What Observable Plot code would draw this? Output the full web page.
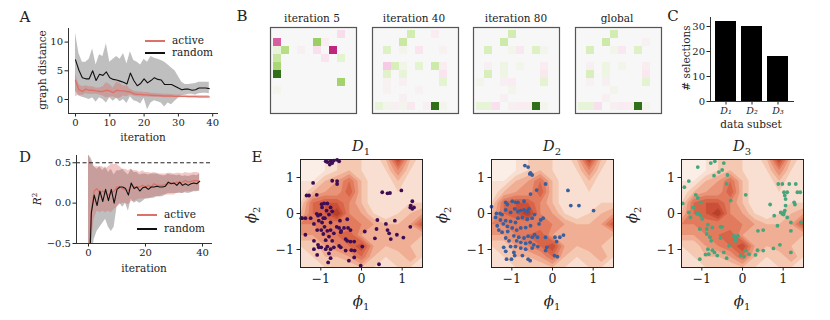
<!DOCTYPE html>
<html><head><meta charset="utf-8">
<script src="https://cdn.jsdelivr.net/npm/d3@7"></script>
<script src="https://cdn.jsdelivr.net/npm/@observablehq/plot@0.6"></script>
<style>
html,body{margin:0;padding:0;background:#fff;}
#fig{position:relative;width:830px;height:320px;overflow:hidden;font-family:"DejaVu Serif",serif;color:#222;}
.lbl{position:absolute;white-space:nowrap;line-height:1;}
.leg{position:absolute;height:1.5px;width:20px;}
</style></head><body><div id="fig"></div>
<script>
// ---------------- DATA ----------------
const iteration = Array.from({length: 40}, (_, i) => i);

// Panel A: graph distance
const randMeanA = [6.9,5.1,3.8,3.6,3.6,5.0,3.3,4.4,4.2,4.8,3.8,3.5,3.4,3.2,3.0,2.7,4.6,3.3,2.4,2.8,3.6,2.9,3.3,3.8,3.5,3.4,2.6,2.6,2.6,2.3,2.0,1.7,1.8,1.8,1.6,1.7,2.0,2.0,2.0,1.9];
const randHiA   = [11.6,8.0,6.5,6.5,7.0,8.8,6.0,7.8,7.5,9.7,6.5,7.0,7.5,7.0,8.0,6.2,8.3,6.8,6.5,6.0,7.0,6.5,7.5,7.2,7.0,6.8,6.5,6.0,5.5,5.0,4.0,3.0,2.6,2.6,2.7,2.8,3.0,3.0,3.0,3.0];
const randLoA   = [1.5,0.6,0.4,0.2,0.0,0.3,-0.5,0.3,0.0,-0.6,0.3,-0.3,0.2,-0.4,0.0,-0.7,0.5,-0.2,-0.4,-0.8,0.2,-1.8,-0.6,-0.2,-0.4,-0.6,-1.3,-0.6,-0.9,-0.3,0.2,0.7,0.8,0.9,0.9,0.8,1.0,1.1,1.1,1.0];
const actMeanA  = [3.3,1.7,1.4,1.8,1.6,1.6,1.5,1.4,1.4,1.6,1.5,1.2,1.6,1.5,1.5,1.4,1.3,1.0,0.9,0.9,0.8,0.8,0.75,0.7,0.7,0.65,0.6,0.6,0.6,0.55,0.55,0.55,0.55,0.5,0.5,0.5,0.45,0.45,0.45,0.45];
const actHiA    = [4.5,2.6,2.2,2.4,2.2,2.2,2.0,2.0,2.2,2.9,2.6,2.0,3.0,2.8,2.3,2.4,1.8,1.5,1.3,1.3,1.2,1.2,1.1,1.05,1.0,0.95,0.9,0.9,0.85,0.8,0.8,0.8,0.8,0.75,0.75,0.75,0.7,0.7,0.7,0.7];
const actLoA    = [0.5,0.8,0.7,1.0,0.9,0.9,0.9,0.8,0.6,0.3,0.4,0.5,0.2,0.2,0.6,0.5,0.8,0.6,0.5,0.5,0.45,0.45,0.4,0.4,0.4,0.35,0.3,0.3,0.3,0.3,0.3,0.3,0.3,0.25,0.25,0.25,0.2,0.2,0.2,0.2];

// Panel D: R^2
const randMeanD = [-1.2,-0.12,0.1,-0.03,0.15,0.02,0.17,0.03,0.17,0.0,0.17,0.2,0.2,0.18,0.1,0.25,0.18,0.2,0.15,0.19,0.2,0.17,0.2,0.2,0.21,0.2,0.2,0.21,0.26,0.24,0.25,0.22,0.26,0.22,0.24,0.22,0.24,0.25,0.24,0.27];
const randHiD   = [0.6,0.55,0.45,0.42,0.45,0.4,0.45,0.38,0.42,0.35,0.4,0.4,0.42,0.38,0.35,0.42,0.38,0.38,0.35,0.36,0.36,0.35,0.36,0.36,0.36,0.35,0.34,0.34,0.36,0.35,0.35,0.34,0.35,0.33,0.34,0.33,0.34,0.35,0.34,0.36];
const randLoD   = [-1.5,-0.7,-0.45,-0.35,-0.3,-0.25,-0.2,-0.3,-0.35,-0.3,-0.05,0.0,-0.05,0.0,-0.1,0.05,0.0,0.02,0.0,0.02,0.05,0.05,0.06,0.06,0.08,0.08,0.08,0.1,0.12,0.12,0.12,0.12,0.13,0.12,0.13,0.12,0.13,0.14,0.14,0.15];
const actMeanD  = [-0.8,-0.1,0.15,0.18,0.12,0.15,0.12,0.1,0.12,0.15,0.2,0.2,0.18,0.16,0.16,0.22,0.2,0.2,0.2,0.22,0.2,0.22,0.2,0.24,0.22,0.22,0.22,0.23,0.24,0.25,0.24,0.26,0.25,0.26,0.28,0.26,0.27,0.28,0.28,0.27];
const actHiD    = [0.6,0.5,0.45,0.45,0.45,0.45,0.42,0.45,0.48,0.48,0.48,0.45,0.42,0.42,0.4,0.42,0.4,0.4,0.38,0.4,0.38,0.38,0.37,0.38,0.37,0.36,0.36,0.36,0.37,0.37,0.36,0.37,0.37,0.36,0.38,0.37,0.37,0.38,0.38,0.37];
const actLoD    = [-1.5,-0.5,-0.2,-0.1,-0.12,-0.1,-0.12,-0.1,-0.12,-0.08,-0.05,-0.02,0.0,0.0,-0.02,0.02,0.02,0.04,0.05,0.05,0.05,0.06,0.06,0.08,0.08,0.08,0.1,0.1,0.1,0.1,0.1,0.12,0.12,0.12,0.14,0.14,0.14,0.15,0.15,0.15];

// Panel B: 10x10 matrices, non-zero cells as [row, col, value]
const gridIndex = [0,1,2,3,4,5,6,7,8,9];
const cellsIter5 = [[0,8,-0.2],[1,0,-0.65],[1,5,0.5],[1,6,-0.07],[2,0,0.15],[2,1,0.4],[2,3,-0.04],[2,5,-0.18],[2,7,-0.8],[3,0,0.33],[3,6,-0.15],[3,8,0.18],[4,0,0.45],[5,0,0.95],[6,8,0.47],[7,0,0.03]];
const cellsIter40 = [[0,4,0.28],[0,7,-0.08],[1,3,0.32],[2,1,0.22],[2,3,0.04],[2,5,-0.15],[2,8,-0.03],[4,1,-0.3],[4,2,0.25],[4,3,0.07],[4,5,0.18],[4,7,0.3],[4,8,-0.08],[5,1,0.2],[5,3,0.15],[5,8,-0.15],[6,1,-0.03],[6,3,-0.06],[6,8,0.18],[7,1,-0.03],[7,5,-0.03],[8,3,-0.06],[9,0,0.15],[9,1,0.03],[9,2,-0.05],[9,3,0.03],[9,4,-0.12],[9,6,-0.05],[9,7,0.95],[9,8,0.03]];
const cellsIter80 = [[0,4,0.28],[1,3,0.3],[2,1,0.25],[2,4,0.05],[2,5,-0.12],[2,7,0.22],[2,8,0.03],[4,1,-0.05],[4,3,0.1],[4,5,0.05],[4,8,-0.08],[5,1,0.25],[5,3,0.1],[5,8,-0.12],[6,0,0.05],[6,3,-0.06],[6,4,-0.08],[6,8,0.18],[7,4,0.03],[8,3,-0.05],[9,0,0.15],[9,1,0.15],[9,2,-0.18],[9,4,-0.04],[9,5,-0.08],[9,6,-0.08],[9,7,0.95],[9,8,0.03]];
const cellsGlobal = [[0,4,0.28],[1,3,0.3],[1,8,-0.03],[2,1,0.25],[2,4,0.05],[2,5,-0.12],[2,7,0.22],[4,1,-0.05],[4,3,0.1],[4,5,0.05],[4,8,-0.08],[5,1,0.25],[5,3,0.1],[5,8,-0.12],[6,1,-0.03],[6,3,-0.05],[6,8,0.18],[7,4,0.03],[8,3,-0.05],[9,0,0.15],[9,1,0.15],[9,2,-0.18],[9,4,-0.04],[9,5,-0.1],[9,6,-0.08],[9,7,0.95],[9,8,0.03]];

// Panel C
const subsets = ["D₁","D₂","D₃"];
const selections = [32, 30, 18];

// Panel E: density background (rows from phi2 = 1.5 down to -1.5; cols phi1 = -1.5 .. 1.5)
const densityRows = [
  [1,0,1,2,2,2,1,3,8,3,1],
  [0,0,1,2,3,2,1,2,5,2,1],
  [1,1,3,4,6,3,1,1,3,1,1],
  [1,3,4,4,7,3,1,1,2,1,1],
  [2,6,7,7,5,3,1,1,1,2,2],
  [3,6,7,9,5,4,2,1,2,3,4],
  [5,5,5,5,5,5,4,3,3,4,7],
  [4,4,5,6,7,4,3,3,3,3,3],
  [2,2,4,5,6,8,4,3,4,3,2],
  [1,2,3,3,4,6,3,2,2,4,2],
  [1,1,2,2,2,3,2,1,2,2,1]
];
const densityLevels = [0,1,2,3,4,5,6,7,8,9];
const densityColors = ["#fbeee6","#f9dfd1","#f5c8b2","#f0ae94","#ea9477","#e27b5e","#d86548","#cb5037","#b8412b","#9c3221"];

const pointsD1 = [[-0.88,1.45],[-0.84,1.43],[-0.76,1.45],[-0.72,1.40],[-0.68,1.47],[-0.78,1.36],[-0.60,1.49],[-0.55,1.45],[-1.19,0.85],[-0.72,0.91],[-0.60,0.82],[-0.60,0.90],[-1.29,0.50],[-1.35,0.50],[-1.10,0.52],[-0.98,0.26],[-0.92,0.28],[-0.84,0.28],[-0.97,0.17],[-0.86,0.08],[-0.76,0.17],[-1.46,-0.13],[-1.38,-0.13],[-1.25,-0.13],[-1.05,-0.20],[-0.94,-0.13],[-0.80,-0.03],[-0.72,0.06],[-1.01,-0.03],[-1.10,-0.01],[-0.53,-0.20],[-0.35,-0.16],[-0.43,-0.40],[-0.33,-0.40],[-0.27,-0.46],[-0.50,-0.48],[-0.55,-0.40],[-1.09,-0.46],[-0.99,-0.46],[-0.84,-0.48],[-0.76,-0.46],[-0.68,-0.55],[-0.80,-0.64],[-0.94,-0.57],[-0.51,-0.52],[-1.38,-0.59],[-1.17,-0.76],[-1.07,-0.87],[-0.99,-0.94],[-0.84,-0.92],[-0.68,-0.94],[-0.55,-0.90],[-0.35,-0.76],[-0.39,-0.71],[-1.17,-0.99],[-1.05,-0.94],[-0.88,-0.99],[-0.76,-0.99],[-1.09,-1.15],[-0.80,-1.11],[-0.76,-1.24],[-0.82,-1.36],[-0.39,-1.03],[-0.25,-1.02],[-0.17,-1.03],[-0.31,-1.31],[-0.18,-1.22],[0.02,-0.92],[0.08,-0.50],[0.37,-0.43],[0.60,-0.29],[0.64,-0.46],[0.68,-0.55],[0.82,-0.20],[0.87,-0.59],[0.72,-0.71],[1.03,-0.67],[0.33,-0.69],[0.39,-0.18],[0.51,0.59],[0.64,0.56],[0.70,0.57],[0.98,0.64],[1.25,0.34],[1.21,0.22],[1.25,0.13],[1.20,0.17],[1.29,0.17],[1.20,-0.37],[0.43,-1.41],[-0.02,-1.45],[-1.48,-0.13],[-0.97,-0.25],[-1.17,-0.29],[-0.76,-0.25],[-0.61,-0.37],[-0.91,-0.37],[-0.88,-0.74],[-0.72,-0.76],[-0.51,-0.94],[-0.27,-0.78],[-0.18,-0.78],[-1.07,-0.06],[-0.90,-0.13]];
const pointsD2 = [[-0.68,1.33],[-0.60,1.29],[-0.56,1.10],[-0.50,1.07],[-0.54,1.13],[-0.17,0.82],[-0.39,0.65],[-0.54,0.54],[-1.50,0.19],[-1.15,0.31],[-1.11,0.25],[-0.99,0.34],[-0.91,0.31],[-0.85,0.31],[-0.70,0.34],[-1.15,0.10],[-1.03,0.03],[-0.93,0.13],[-0.85,0.06],[-0.78,0.08],[-0.70,0.10],[-0.62,0.06],[-0.58,0.13],[-1.38,0.00],[-1.29,0.00],[-1.24,-0.03],[-1.40,-0.11],[-1.28,-0.18],[-1.15,-0.20],[-1.03,-0.22],[-0.91,-0.25],[-0.85,-0.13],[-0.74,-0.11],[-0.62,-0.16],[-0.50,-0.13],[-0.44,-0.03],[-0.29,-0.18],[-0.23,-0.13],[-1.36,-0.34],[-1.21,-0.29],[-1.11,-0.36],[-0.99,-0.40],[-0.88,-0.46],[-0.78,-0.40],[-0.66,-0.39],[-0.54,-0.34],[-0.33,-0.29],[-1.32,-0.46],[-1.24,-0.52],[-1.10,-0.50],[-0.95,-0.62],[-0.83,-0.66],[-0.70,-0.68],[-0.60,-0.63],[-0.50,-0.66],[-0.44,-0.59],[-0.37,-0.66],[-1.15,-0.68],[-1.07,-0.76],[-0.88,-0.76],[-0.78,-0.80],[-0.66,-0.83],[-0.55,-0.80],[-0.46,-0.87],[-0.36,-0.92],[-0.50,-0.96],[-1.20,-0.94],[-1.03,-0.92],[-0.91,-0.92],[-0.78,-0.96],[-0.66,-0.99],[-0.74,-1.17],[-0.60,-1.27],[-0.55,-1.31],[-0.95,-1.08],[-0.93,-1.17],[-1.15,-1.05],[-1.13,-1.27],[-1.01,-1.27],[-0.17,-0.66],[-0.14,-0.94],[-0.17,-1.03],[0.06,-0.66],[0.10,-0.78],[0.18,-0.66],[0.27,-0.60],[0.05,-1.17],[0.12,-1.20],[0.38,0.64],[0.45,0.22],[0.65,0.22],[1.01,0.08]];
const pointsD3 = [[-1.10,1.29],[-0.78,1.40],[-0.68,1.45],[-0.46,1.40],[-0.58,1.15],[-0.50,1.21],[-0.37,1.07],[-0.70,1.05],[-1.32,0.90],[-1.43,0.73],[-0.39,0.82],[-1.15,0.52],[-1.10,0.43],[-1.03,0.31],[-1.47,0.28],[0.08,0.52],[-0.29,0.36],[-1.21,0.17],[-1.13,0.00],[-1.10,-0.01],[-1.03,-0.06],[-0.99,-0.15],[-1.32,0.03],[-1.28,-0.11],[-1.05,-0.43],[-0.88,-0.43],[-0.85,-0.31],[-0.74,-0.39],[-0.80,-0.66],[-0.54,-0.37],[-0.50,-0.37],[-0.77,-0.76],[-0.54,-0.68],[-0.88,-0.57],[-0.85,-0.99],[-0.83,-1.13],[-0.74,-1.02],[-0.62,-1.17],[-0.69,-1.08],[-1.05,-1.27],[-0.91,-1.14],[-0.46,-1.08],[-0.39,-1.24],[-0.33,-0.90],[-0.17,-0.66],[-0.21,-0.62],[-0.11,-0.62],[-0.17,-0.76],[-0.05,-1.17],[0.04,-1.20],[0.16,-1.13],[0.08,-1.03],[0.37,-1.02],[0.51,-1.03],[0.32,-1.15],[0.38,-0.48],[0.51,-0.46],[0.76,-0.97],[0.92,-0.87],[1.19,-1.08],[0.68,0.25],[0.78,-0.06],[0.98,0.82],[1.02,0.59],[1.04,0.50],[1.06,0.40],[1.10,0.59],[1.15,0.82],[1.31,0.82],[1.35,0.59],[1.42,0.59],[1.27,0.31],[1.29,0.25],[1.06,0.22],[0.94,0.03],[0.98,-0.01],[1.01,-0.03],[1.02,0.03],[1.04,0.08],[1.19,-0.25],[1.19,-0.48],[0.86,-0.34],[1.10,-0.11],[1.44,-0.25],[0.88,0.82]];

// ---------------- DRAWING ----------------
const fig = document.getElementById("fig");
const serif = '"DejaVu Serif", serif';
const baseStyle = {fontFamily: serif, fontSize: "10px", background: "transparent", overflow: "visible", color: "#222"};
const intFmt = d => (d < 0 ? "−" : "") + Math.abs(d);

function place(el, left, top) {
  el.style.position = "absolute";
  el.style.left = left + "px";
  el.style.top = top + "px";
  fig.appendChild(el);
}
function label(html, cx, cy, size, rot = 0) {
  const d = document.createElement("div");
  d.className = "lbl";
  d.style.left = cx + "px";
  d.style.top = cy + "px";
  d.style.fontSize = size + "px";
  d.style.transform = `translate(-50%,-50%) rotate(${rot}deg)`;
  d.innerHTML = html;
  fig.appendChild(d);
}
function legendLine(x, y, color, text) {
  const l = document.createElement("div");
  l.className = "leg";
  l.style.left = x + "px"; l.style.top = (y - 0.75) + "px";
  l.style.background = color;
  fig.appendChild(l);
  const t = document.createElement("div");
  t.className = "lbl";
  t.style.left = (x + 27) + "px"; t.style.top = (y - 6) + "px";
  t.style.fontSize = "10.5px";
  t.textContent = text;
  fig.appendChild(t);
}

const actColor = "#dd7168";

// ---- Panel A ----
const tableA = iteration.map(i => ({i, rm: randMeanA[i], rl: randLoA[i], rh: randHiA[i], am: actMeanA[i], al: actLoA[i], ah: actHiA[i]}));
const plotA = Plot.plot({
  width: 230, height: 145, marginLeft: 68, marginRight: 13, marginTop: 28, marginBottom: 32,
  style: baseStyle,
  x: {domain: [-2.04, 41.4], ticks: [0, 10, 20, 30, 40], tickSize: 3.5, tickPadding: 2, label: null},
  y: {domain: [-2.44, 12.37], ticks: [0, 5, 10], tickSize: 3.5, tickPadding: 2, label: null},
  marks: [
    Plot.areaY(tableA, {x: "i", y1: "rl", y2: "rh", fill: "#808080", fillOpacity: 0.5}),
    Plot.areaY(tableA, {x: "i", y1: "al", y2: "ah", fill: "#d9625b", fillOpacity: 0.35}),
    Plot.lineY(tableA, {x: "i", y: "am", stroke: actColor, strokeWidth: 1.4}),
    Plot.lineY(tableA, {x: "i", y: "rm", stroke: "#111", strokeWidth: 1.1}),
    Plot.frame({anchor: "left", stroke: "#333"}),
    Plot.frame({anchor: "bottom", stroke: "#333"})
  ]
});
place(plotA, 0, 0);
label("A", 25, 17, 15);
label("graph distance", 42, 70, 10.5, -90);
label("iteration", 143, 137, 10.5);
legendLine(145, 41, actColor, "active");
legendLine(145, 53, "#111", "random");

// ---- Panel D ----
const tableD = iteration.map(i => ({i, rm: randMeanD[i], rl: randLoD[i], rh: randHiD[i], am: actMeanD[i], al: actLoD[i], ah: actHiD[i]}));
const plotD = Plot.plot({
  width: 230, height: 135, marginLeft: 76, marginRight: 19, marginTop: 15, marginBottom: 32,
  style: baseStyle,
  x: {domain: [-4.21, 43.16], ticks: [0, 20, 40], tickSize: 3.5, tickPadding: 2, label: null},
  y: {domain: [-0.5, 0.59], ticks: [-0.5, 0, 0.5], tickFormat: d3.format(".1f"), tickSize: 3.5, tickPadding: 2, label: null},
  marks: [
    Plot.areaY(tableD, {x: "i", y1: "rl", y2: "rh", fill: "#808080", fillOpacity: 0.5, clip: true}),
    Plot.areaY(tableD, {x: "i", y1: "al", y2: "ah", fill: "#d9625b", fillOpacity: 0.35, clip: true}),
    Plot.lineY(tableD, {x: "i", y: "am", stroke: actColor, strokeWidth: 1.3, clip: true}),
    Plot.lineY(tableD, {x: "i", y: "rm", stroke: "#111", strokeWidth: 1.1, clip: true}),
    Plot.ruleY([0.5], {stroke: "#222", strokeDasharray: "4,2.5", strokeWidth: 1}),
    Plot.frame({anchor: "left", stroke: "#333"}),
    Plot.frame({anchor: "bottom", stroke: "#333"})
  ]
});
place(plotD, 0, 140);
label("D", 25, 157, 15);
label("<i>R</i><sup style='font-size:7px'>2</sup>", 37, 199, 10.5, -90);
label("iteration", 144, 268, 10.5);
legendLine(137, 215, actColor, "active");
legendLine(137, 229, "#111", "random");

// ---- Panel B ----
function heat(cells, left, title, cx) {
  const data = cells.map(([r, c, v]) => ({r, c, v}));
  const p = Plot.plot({
    width: 86, height: 86, margin: 0,
    style: baseStyle,
    x: {type: "band", domain: gridIndex, padding: 0, axis: null},
    y: {type: "band", domain: gridIndex, padding: 0, axis: null},
    color: {type: "linear", scheme: "piyg", domain: [-1, 1]},
    marks: [
      Plot.frame({fill: "#f7f7f7"}),
      Plot.cell(data, {x: "c", y: "r", fill: "v", inset: 0}),
      Plot.frame({stroke: "#555", strokeWidth: 1.2})
    ]
  });
  place(p, left, 27);
  label(title, cx, 18, 10.5);
}
heat(cellsIter5, 270, "iteration 5", 312);
heat(cellsIter40, 372, "iteration 40", 414);
heat(cellsIter80, 473, "iteration 80", 516);
heat(cellsGlobal, 575, "global", 617);
label("B", 242, 16, 15);

// ---- Panel C ----
const tableC = subsets.map((s, k) => ({s, n: selections[k]}));
const plotC = Plot.plot({
  width: 170, height: 145, marginLeft: 50, marginRight: 37, marginTop: 17, marginBottom: 44,
  style: baseStyle,
  x: {type: "band", domain: subsets, paddingInner: 0.2, paddingOuter: 0.14},
  y: {domain: [0, 33.6]},
  marks: [
    Plot.barY(tableC, {x: "s", y: "n", fill: "#000"}),
    Plot.axisX({tickSize: 3.5, tickPadding: 2, label: null, fontStyle: "italic", fontSize: 9.5}),
    Plot.axisY({ticks: [0, 10, 20, 30], tickSize: 3.5, tickPadding: 2, label: null}),
    Plot.frame({anchor: "left", stroke: "#333"}),
    Plot.frame({anchor: "bottom", stroke: "#333"})
  ]
});
place(plotC, 660, 0);
label("C", 673, 16, 15);
label("# selections", 686, 58, 10.5, -90);
label("data subset", 751, 124, 10.5);

// ---- Panel E ----
const densityGrid = densityRows.flat();
function ePlot(points, color, left, sub) {
  const pts = points.map(([x, y]) => ({x, y}));
  const p = Plot.plot({
    width: 190, height: 180, marginLeft: 55, marginRight: 13, marginTop: 19, marginBottom: 53,
    style: {...baseStyle, fontSize: "12.5px"},
    x: {domain: [-1.5, 1.5], ticks: [-1, 0, 1], tickFormat: intFmt, tickSize: 3.5, tickPadding: 3, label: null},
    y: {domain: [-1.5, 1.5], ticks: [-1, 0, 1], tickFormat: intFmt, tickSize: 3.5, tickPadding: 3, label: null},
    color: {type: "ordinal", domain: densityLevels, range: densityColors},
    marks: [
      Plot.contour(densityGrid, {x1: -1.65, x2: 1.65, y1: 1.65, y2: -1.65, width: 11, height: 11, fill: Plot.identity, thresholds: densityLevels, clip: true}),
      Plot.dot(pts, {x: "x", y: "y", r: 1.9, fill: color}),
      Plot.frame({stroke: "#222", strokeWidth: 1})
    ]
  });
  place(p, left, 140);
  const cx = left + 55 + 61;
  label(`<i>D</i><sub style='font-size:10px'>${sub}</sub>`, cx, 148, 14.5);
  label(`<i>ϕ</i><sub style='font-size:10px'>1</sub>`, cx, 303, 15);
  label(`<i>ϕ</i><sub style='font-size:10px'>2</sub>`, left + 8, 215, 15, -90);
}
ePlot(pointsD1, "#3d0d55", 245, 1);
ePlot(pointsD2, "#3a5f9e", 436, 2);
ePlot(pointsD3, "#45a67e", 626, 3);
label("E", 257, 157, 15);
</script></body></html>
